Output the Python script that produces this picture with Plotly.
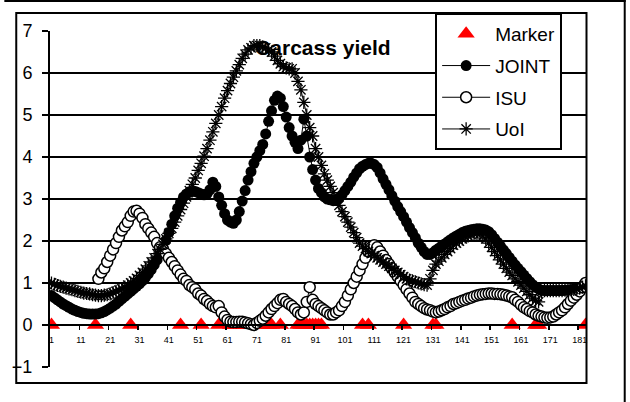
import plotly.graph_objects as go

# ---------------- data ----------------
categories = list(range(1, 184))

joint = [
    0.70, 0.65, 0.60, 0.55, 0.50, 0.46, 0.42, 0.38, 0.35, 0.32,
    0.30, 0.28, 0.27, 0.26, 0.26, 0.26, 0.27, 0.29, 0.32, 0.36,
    0.40, 0.45, 0.50, 0.56, 0.62, 0.68, 0.74, 0.80, 0.86, 0.92,
    0.98, 1.05, 1.13, 1.22, 1.32, 1.43, 1.55, 1.70, 1.86, 2.02,
    2.20, 2.40, 2.60, 2.78, 2.92, 3.05, 3.12, 3.17, 3.18, 3.18,
    3.15, 3.12, 3.10, 3.12, 3.22, 3.40, 3.30, 3.05, 2.85, 2.65,
    2.50, 2.45, 2.42, 2.50, 2.70, 2.95, 3.20, 3.45, 3.65, 3.85,
    4.00, 4.15, 4.30, 4.55, 4.85, 5.10, 5.35, 5.45, 5.40, 5.20,
    4.95, 4.70, 4.50, 4.35, 4.20, 4.40, 4.90, 4.50, 4.00, 3.70,
    3.45, 3.25, 3.15, 3.05, 3.00, 2.98, 2.96, 2.97, 3.02, 3.10,
    3.20, 3.30, 3.40, 3.52, 3.62, 3.72, 3.78, 3.82, 3.85, 3.85,
    3.82, 3.75, 3.62, 3.48, 3.35, 3.22, 3.08, 2.95, 2.82, 2.70,
    2.58, 2.45, 2.32, 2.20, 2.08, 1.95, 1.85, 1.75, 1.68, 1.68,
    1.72, 1.78, 1.83, 1.88, 1.93, 1.98, 2.03, 2.08, 2.12, 2.16,
    2.20, 2.23, 2.25, 2.27, 2.28, 2.29, 2.29, 2.28, 2.26, 2.22,
    2.15, 2.06, 1.97, 1.88, 1.79, 1.70, 1.61, 1.52, 1.43, 1.35,
    1.27, 1.19, 1.11, 1.03, 0.96, 0.90, 0.86, 0.83, 0.82, 0.82,
    0.82, 0.82, 0.82, 0.82, 0.82, 0.83, 0.83, 0.84, 0.85, 0.86,
    0.88, 0.90, 0.93,
]

isu = [
    None, None, None, None, None, None, None, None, None, None,
    None, None, None, None, None, None, 1.10, 1.25, 1.35, 1.50,
    1.65, 1.80, 1.95, 2.10, 2.25, 2.35, 2.45, 2.60, 2.70, 2.72,
    2.65, 2.55, 2.40, 2.30, 2.20, 2.10, 1.95, 1.85, 1.80, 1.70,
    1.60, 1.50, 1.40, 1.30, 1.20, 1.10, 1.05, 0.95, 0.90, 0.85,
    0.75, 0.70, 0.62, 0.57, 0.50, 0.45, 0.42, 0.45, 0.30, 0.20,
    0.12, 0.08, 0.07, 0.07, 0.08, 0.08, 0.06, 0.04, 0.02, 0.00,
    0.05, 0.10, 0.15, 0.22, 0.30, 0.38, 0.45, 0.52, 0.60, 0.62,
    0.55, 0.50, 0.45, 0.38, 0.30, 0.25, 0.30, 0.55, 0.90, 0.60,
    0.50, 0.45, 0.40, 0.35, 0.30, 0.25, 0.25, 0.30, 0.35, 0.45,
    0.55, 0.70, 0.85, 1.00, 1.15, 1.30, 1.45, 1.60, 1.75, 1.85,
    1.90, 1.85, 1.75, 1.65, 1.55, 1.45, 1.35, 1.25, 1.15, 1.05,
    0.95, 0.85, 0.75, 0.65, 0.55, 0.50, 0.45, 0.40, 0.37, 0.35,
    0.32, 0.30, 0.32, 0.35, 0.38, 0.42, 0.45, 0.50, 0.52, 0.55,
    0.58, 0.60, 0.63, 0.65, 0.68, 0.70, 0.72, 0.73, 0.74, 0.75,
    0.75, 0.74, 0.74, 0.73, 0.72, 0.70, 0.68, 0.66, 0.60, 0.55,
    0.48, 0.42, 0.38, 0.33, 0.30, 0.25, 0.22, 0.20, 0.18, 0.17,
    0.18, 0.20, 0.25, 0.30, 0.35, 0.42, 0.50, 0.58, 0.65, 0.72,
    0.80, 0.90, 1.00,
]

uol = [
    1.00, 0.97, 0.94, 0.92, 0.90, 0.88, 0.86, 0.84, 0.82, 0.80,
    0.78, 0.76, 0.75, 0.74, 0.72, 0.71, 0.70, 0.70, 0.71, 0.72,
    0.74, 0.77, 0.80, 0.83, 0.86, 0.90, 0.95, 1.00, 1.05, 1.11,
    1.18, 1.25, 1.33, 1.41, 1.50, 1.60, 1.70, 1.80, 1.92, 2.05,
    2.18, 2.30, 2.45, 2.60, 2.75, 2.90, 3.05, 3.20, 3.35, 3.50,
    3.68, 3.85, 4.02, 4.20, 4.40, 4.60, 4.80, 5.00, 5.20, 5.40,
    5.58, 5.75, 5.90, 6.05, 6.20, 6.35, 6.45, 6.55, 6.60, 6.65,
    6.65, 6.65, 6.62, 6.60, 6.55, 6.50, 6.40, 6.30, 6.22, 6.15,
    6.12, 6.10, 6.10, 6.00, 5.80, 5.60, 5.30, 5.00, 4.70, 4.50,
    4.20, 4.00, 3.80, 3.60, 3.45, 3.30, 3.15, 3.00, 2.85, 2.70,
    2.58, 2.45, 2.33, 2.20, 2.08, 1.95, 1.88, 1.82, 1.75, 1.70,
    1.65, 1.60, 1.55, 1.50, 1.45, 1.40, 1.35, 1.30, 1.25, 1.20,
    1.15, 1.10, 1.07, 1.05, 1.03, 1.00, 0.98, 0.96, 0.95, 1.10,
    1.30, 1.45, 1.52, 1.60, 1.68, 1.75, 1.82, 1.90, 1.95, 2.00,
    2.05, 2.10, 2.12, 2.15, 2.17, 2.18, 2.17, 2.12, 2.05, 1.95,
    1.85, 1.75, 1.65, 1.55, 1.45, 1.35, 1.26, 1.18, 1.10, 1.03,
    0.95, 0.88, 0.80, 0.72, 0.64, 0.58, 0.55, 0.80, 0.82, 0.82,
    0.82, 0.82, 0.82, 0.82, 0.82, 0.83, 0.83, 0.84, 0.85, 0.86,
    0.88, 0.90, 0.93,
]

marker_cats = [1, 16, 28, 45, 52, 58, 62, 63, 64, 65, 66, 73, 74, 75, 76, 79,
               85, 86, 87, 88, 89, 90, 91, 92, 93, 107, 109, 121, 131, 132,
               158, 166, 167, 183]
marker_vals = [0] * len(marker_cats)

x_tick_vals = list(range(1, 182, 10))
x_tick_labels = [str(v) for v in x_tick_vals]
x_minor_ticks = [v + 9.5 for v in x_tick_vals]
y_tick_vals = list(range(-1, 8))

chart_title = "Carcass yield"
title_x = 93.5
title_y = 6.55

FONT = "Arial, Liberation Sans, sans-serif"

# ---------------- figure ----------------
fig = go.Figure()

fig.add_trace(go.Scatter(
    x=marker_cats, y=marker_vals, name="Marker", mode="markers",
    marker=dict(symbol="triangle-up", size=15, color="#ff0000"),
    legendgroup="a",
))
fig.add_trace(go.Scatter(
    x=categories, y=joint, name="JOINT", mode="lines+markers",
    line=dict(color="black", width=1),
    marker=dict(symbol="circle", size=11, color="black"),
    legendgroup="b",
))
fig.add_trace(go.Scatter(
    x=categories, y=isu, name="ISU", mode="lines+markers",
    line=dict(color="black", width=1),
    marker=dict(symbol="circle", size=11, color="white",
                line=dict(color="black", width=1.5)),
    legendgroup="c",
))
fig.add_trace(go.Scatter(
    x=[title_x], y=[title_y], mode="text", text=[chart_title],
    textfont=dict(family=FONT, size=21, color="black", weight="bold"),
    showlegend=False, hoverinfo="skip",
))
fig.add_trace(go.Scatter(
    x=categories, y=uol, name="UoI", mode="lines+markers",
    line=dict(color="black", width=1),
    marker=dict(symbol="asterisk-open", size=11,
                line=dict(color="black", width=1.3)),
    legendgroup="d",
))

W, H = 630, 402
L, R, T, B = 46, 43, 31, 35
pw, ph = W - L - R, H - T - B


def px_x(p):
    return (p - L) / pw


def px_y(p):
    return (H - B - p) / ph


shapes = [
    # inner chart frame
    dict(type="rect", xref="paper", yref="paper",
         x0=px_x(12), x1=px_x(586.5), y0=px_y(383), y1=px_y(13),
         line=dict(color="black", width=2), layer="above"),
    # outer border (top and right)
    dict(type="line", xref="paper", yref="paper",
         x0=px_x(0), x1=px_x(626), y0=px_y(1), y1=px_y(1),
         line=dict(color="black", width=2)),
    dict(type="line", xref="paper", yref="paper",
         x0=px_x(625), x1=px_x(625), y0=px_y(0), y1=px_y(402),
         line=dict(color="black", width=2)),
]

fig.update_layout(
    width=W, height=H,
    margin=dict(l=L, r=R, t=T, b=B, pad=0),
    paper_bgcolor="white", plot_bgcolor="white",
    font=dict(family=FONT, color="black"),
    showlegend=True,
    legend=dict(
        x=px_x(434), y=px_y(13), xanchor="left", yanchor="top",
        bgcolor="white", bordercolor="black", borderwidth=2,
        font=dict(family=FONT, size=19, color="black"),
        traceorder="grouped", tracegroupgap=4, itemwidth=48,
    ),
    xaxis=dict(
        range=[0.5, 183.5], anchor="free", position=1 / 8,
        showline=True, linecolor="black", linewidth=2,
        showgrid=False, zeroline=False,
        tickmode="array", tickvals=x_tick_vals, ticktext=x_tick_labels,
        ticks="outside", ticklen=6, tickcolor="rgba(0,0,0,0)",
        tickfont=dict(family=FONT, size=9, color="black"),
        minor=dict(tickmode="array", tickvals=x_minor_ticks, ticks="outside",
                   ticklen=4, tickwidth=1.5, tickcolor="black", showgrid=False),
    ),
    yaxis=dict(
        range=[-1, 7], tickmode="array", tickvals=y_tick_vals,
        showgrid=True, gridcolor="black", gridwidth=1.5,
        showline=True, linecolor="black", linewidth=2,
        ticks="outside", ticklen=6, tickwidth=2, tickcolor="black",
        zeroline=False, ticklabelstandoff=6,
        tickfont=dict(family=FONT, size=18, color="black"),
    ),
    shapes=shapes,
)

fig.write_html(
    "out.html",
    config={"displayModeBar": False, "staticPlot": True},
    post_script="document.body.style.margin='0';document.body.style.overflow='hidden';",
)
